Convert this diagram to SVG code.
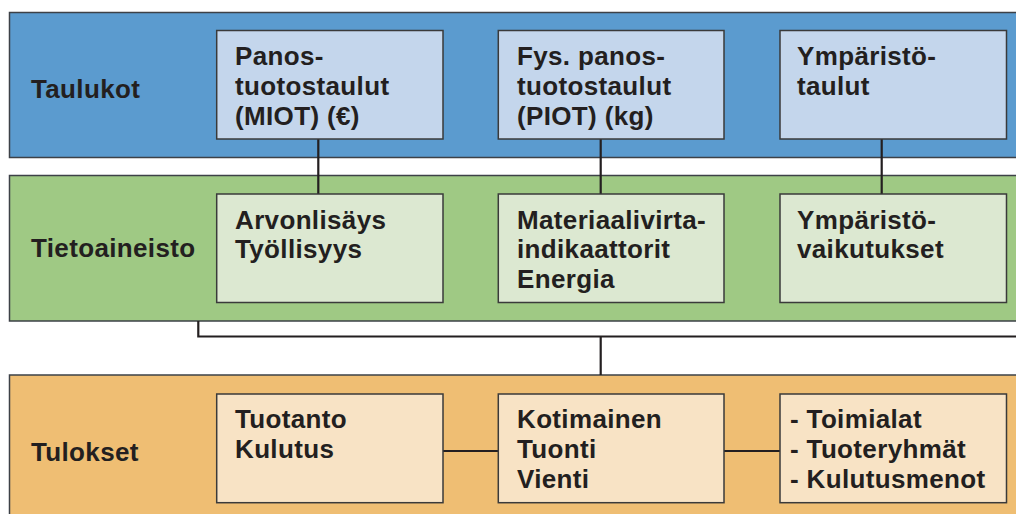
<svg xmlns="http://www.w3.org/2000/svg" width="1016" height="514" viewBox="0 0 1016 514">
<style>
.band{stroke:#3d4147;stroke-width:1.5}
.box{stroke:#3a3a3a;stroke-width:1.5}
.t{font-family:"Liberation Sans",Arial,sans-serif;font-weight:bold;font-size:26px;letter-spacing:0.35px;fill:#231f20}
.c{fill:none;stroke:#231f20;stroke-width:2.2}
</style>
<rect width="1016" height="514" fill="#ffffff"/>
<g id="band-taulukot">
<rect class="band" x="9.5" y="12.5" width="1020" height="145" fill="#5b9bcf"/>
<text class="t" x="31" y="98">Taulukot</text>
</g>
<g id="band-tietoaineisto">
<rect class="band" x="9.5" y="175.5" width="1020" height="145.5" fill="#9fc984"/>
<text class="t" x="31" y="257">Tietoaineisto</text>
</g>
<g id="band-tulokset">
<rect class="band" x="9.5" y="375" width="1020" height="150" fill="#efbe73"/>
<text class="t" x="31" y="461">Tulokset</text>
</g>
<g id="connectors">
<path class="c" d="M318.3 139V194M600.7 139V194M881.7 139V194"/>
<path class="c" d="M198.3 321V336.5H1030M600.7 336.5V375"/>
<path class="c" d="M443 451H498.3M724 451H780"/>
</g>
<g id="miot">
<rect class="box" x="216.7" y="30.5" width="226.3" height="108.5" fill="#c4d6ec"/>
<text class="t" x="235" y="65">Panos-</text>
<text class="t" x="235" y="95">tuotostaulut</text>
<text class="t" x="235" y="125">(MIOT) (€)</text>
</g>
<g id="piot">
<rect class="box" x="498.3" y="30.5" width="225.7" height="108.5" fill="#c4d6ec"/>
<text class="t" x="517" y="65">Fys. panos-</text>
<text class="t" x="517" y="95">tuotostaulut</text>
<text class="t" x="517" y="125">(PIOT) (kg)</text>
</g>
<g id="ymparistotaulut">
<rect class="box" x="780" y="30.5" width="226.5" height="108.5" fill="#c4d6ec"/>
<text class="t" x="797" y="65">Ympäristö-</text>
<text class="t" x="797" y="95">taulut</text>
</g>
<g id="arvonlisays">
<rect class="box" x="216.7" y="194" width="226.3" height="108.5" fill="#dce8d1"/>
<text class="t" x="235" y="228.5">Arvonlisäys</text>
<text class="t" x="235" y="258.3">Työllisyys</text>
</g>
<g id="materiaalivirta">
<rect class="box" x="498.3" y="194" width="225.7" height="108.5" fill="#dce8d1"/>
<text class="t" x="517" y="228.5">Materiaalivirta-</text>
<text class="t" x="517" y="258.3">indikaattorit</text>
<text class="t" x="517" y="287.5">Energia</text>
</g>
<g id="ymparistovaikutukset">
<rect class="box" x="780" y="194" width="226.5" height="108.5" fill="#dce8d1"/>
<text class="t" x="797" y="228.5">Ympäristö-</text>
<text class="t" x="797" y="258.3">vaikutukset</text>
</g>
<g id="tuotanto">
<rect class="box" x="216.7" y="394" width="226.3" height="108.7" fill="#f8e3c5"/>
<text class="t" x="235" y="428.3">Tuotanto</text>
<text class="t" x="235" y="458.3">Kulutus</text>
</g>
<g id="kotimainen">
<rect class="box" x="498.3" y="394" width="225.7" height="108.7" fill="#f8e3c5"/>
<text class="t" x="517" y="428.3">Kotimainen</text>
<text class="t" x="517" y="458.3">Tuonti</text>
<text class="t" x="517" y="488.3">Vienti</text>
</g>
<g id="toimialat">
<rect class="box" x="780" y="394" width="226.5" height="108.7" fill="#f8e3c5"/>
<text class="t" x="790" y="428.3">- Toimialat</text>
<text class="t" x="790" y="458.3">- Tuoteryhmät</text>
<text class="t" x="790" y="488.3">- Kulutusmenot</text>
</g>
</svg>
